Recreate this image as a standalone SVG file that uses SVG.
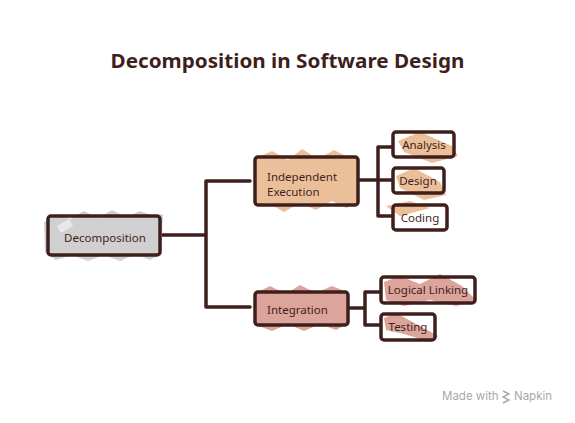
<svg xmlns="http://www.w3.org/2000/svg" width="575" height="423" viewBox="0 0 575 423">
<style>
.box{fill:none;stroke:#3f1f1c;stroke-width:3.5;stroke-linejoin:round}
.conn{fill:none;stroke:#3f1f1c;stroke-width:3.5;stroke-linecap:round;stroke-linejoin:round}
.lbl{font-family:"Noto Sans","DejaVu Sans",sans-serif;font-size:11.5px;fill:#3f1f1c}
.title{font-family:"Noto Sans","DejaVu Sans",sans-serif;font-size:20px;font-weight:bold;fill:#3f1f1c}
.gray{fill:#d0d0d0}
.org{fill:#ecbf9b}
.pink{fill:#dca49b}
.wm{font-family:"Inter","Noto Sans",sans-serif;font-size:11.5px;fill:#a8a8a8}
</style>
<rect width="575" height="423" fill="#ffffff"/>
<text class="title" x="287.5" y="68" text-anchor="middle" textLength="354" lengthAdjust="spacingAndGlyphs">Decomposition in Software Design</text>

<g id="connectors">
<path class="conn" d="M162 235 H206 M250 181 H206 V307 H250"/>
<path class="conn" d="M360 180 H392 M392 147 H378 V216 H392"/>
<path class="conn" d="M348 308 H365 M380 292 H365 V325 H380"/>
</g>

<g id="n-decomposition">
<polygon class="gray" points="44,222 58,214 70,219 84,211 98,218 112,210 126,217 140,211 154,216 163,214 161,254 150,260 136,254 120,261 104,255 88,261 72,255 56,260 45,252"/>
<rect x="58" y="222" width="14" height="8" fill="#e8e8e8" transform="rotate(-30 65 226)"/>
<rect class="box" x="48" y="216" width="112" height="39" rx="3"/>
<text class="lbl" x="105" y="242" text-anchor="middle">Decomposition</text>
</g>

<g id="n-independent">
<polygon class="org" points="256,158 272,151 288,160 302,149 318,159 334,150 350,158 358,156 357,204 346,208 332,201 316,210 300,203 284,212 268,203 255,206"/>
<rect class="box" x="255" y="157" width="103" height="48" rx="3"/>
<text class="lbl" x="267" y="181">Independent</text>
<text class="lbl" x="267" y="196">Execution</text>
</g>

<g id="n-integration">
<polygon class="pink" points="256,293 270,286 286,294 300,285 316,293 332,286 347,292 347,324 336,330 320,324 304,331 288,324 272,331 256,325"/>
<rect class="box" x="255" y="292" width="93" height="33" rx="3"/>
<text class="lbl" x="267" y="314">Integration</text>
</g>

<g id="n-analysis">
<polygon class="org" points="398,141 420,132 452,146 458,156 432,163 404,152"/>
<rect class="box" x="393" y="132" width="61" height="25" rx="3"/>
<text class="lbl" x="424" y="149" text-anchor="middle">Analysis</text>
</g>

<g id="n-design">
<polygon class="org" points="396,176 414,168 440,182 446,195 424,200 400,188"/>
<rect class="box" x="393" y="168" width="51" height="25" rx="3"/>
<text class="lbl" x="418" y="185" text-anchor="middle">Design</text>
</g>

<g id="n-coding">
<polygon class="org" points="386,206 410,201 430,208 400,216"/>
<rect class="box" x="393" y="205" width="54" height="25" rx="3"/>
<text class="lbl" x="420" y="222" text-anchor="middle">Coding</text>
</g>

<g id="n-logical">
<polygon class="pink" points="384,282 400,276 420,284 440,274 462,286 476,300 456,306 430,300 404,306 386,300"/>
<rect class="box" x="381" y="277" width="94" height="26" rx="3"/>
<text class="lbl" x="428" y="294" text-anchor="middle">Logical Linking</text>
</g>

<g id="n-testing">
<polygon class="pink" points="384,318 396,313 420,326 438,336 430,342 404,334 386,330"/>
<rect class="box" x="381" y="314" width="54" height="26" rx="3"/>
<text class="lbl" x="408" y="331" text-anchor="middle">Testing</text>
</g>

<g id="watermark">
<text class="wm" x="442" y="400">Made with</text>
<path d="M503 391 l6 3 l-6 3 l6 3 l-6 3" fill="none" stroke="#a8a8a8" stroke-width="1.4"/>
<text class="wm" x="514" y="400">Napkin</text>
</g>
</svg>
